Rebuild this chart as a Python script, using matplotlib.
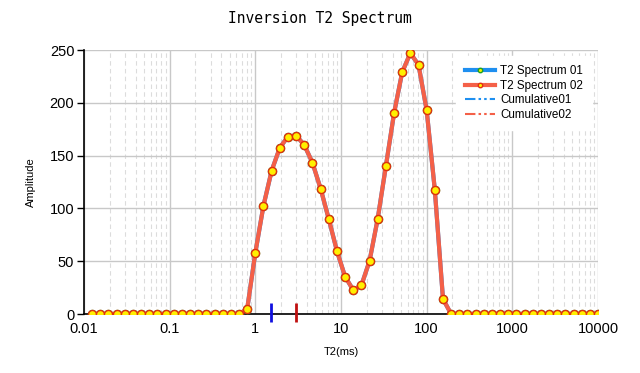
import numpy as np
import matplotlib
matplotlib.use("Agg")
import matplotlib.pyplot as plt
from matplotlib.ticker import LogLocator, FixedLocator, NullFormatter

# ---- data ----
t2_ms = np.logspace(-2, 4, 64)[1:]
amp_02 = [0]*19 + [4.7, 58, 102.6, 135.7, 157.5, 168, 169, 160, 143.3, 118.7,
                   90, 59.7, 35.4, 22.7, 27.1, 50.3, 90.2, 140, 190, 229,
                   247, 236, 193, 117.4, 14.2] + [0]*19
amp_01 = list(amp_02)
cum_x = []
cum_y = []
marker_t2 = [1.52, 2.98]
marker_colors = ["#1010E0", "#C01010"]
x_ticks = [0.01, 0.1, 1, 10, 100, 1000, 10000]
x_ticklabels = ["0.01", "0.1", "1", "10", "100", "1000", "10000"]
y_ticks = [0, 50, 100, 150, 200, 250]

W, H = 640, 373
fig = plt.figure(figsize=(W/100, H/100), dpi=100)
ax = fig.add_axes([84/W, 1-314/H, (598-84)/W, (314-50)/H])

blue = "#1E8FF0"
red = "#F46048"

ax.plot(t2_ms, amp_01, color=blue, lw=3, marker="o", ms=5.8,
        mfc="#F0F000", mec="#20A020", mew=1, label="T2 Spectrum 01", zorder=3)
ax.plot(t2_ms, amp_02, color=red, lw=3, marker="o", ms=5.8,
        mfc="#FFF000", mec="#E03010", mew=1, label="T2 Spectrum 02", zorder=4)
dd = (0, (5, 1.5, 1.2, 1.5, 1.2, 1.5))
ax.plot(cum_x, cum_y, color=blue, lw=1.5, ls=dd, label="Cumulative01")
ax.plot(cum_x, cum_y, color=red, lw=1.5, ls=dd, label="Cumulative02")

for xv, c in zip(marker_t2, marker_colors):
    ax.vlines(xv, -8, 10, color=c, lw=2, clip_on=False, zorder=6)

ax.set_xscale("log")
ax.set_xlim(0.01, 10000)
ax.set_ylim(0, 250)
ax.xaxis.set_major_locator(FixedLocator(x_ticks))
ax.set_xticklabels(x_ticklabels)
ax.xaxis.set_minor_locator(LogLocator(base=10, subs=np.arange(2, 10), numticks=100))
ax.xaxis.set_minor_formatter(NullFormatter())
ax.set_yticks(y_ticks)

ax.grid(True, which="major", axis="both", color="#C8C8C8", lw=1, ls="-")
ax.grid(True, which="minor", axis="x", color="#DCDCDC", lw=0.8, ls=(0, (4, 3)))
ax.set_axisbelow(True)

for s in ["top", "right"]:
    ax.spines[s].set_visible(False)
ax.spines["left"].set_color("black")
ax.spines["bottom"].set_color("black")
ax.spines["left"].set_linewidth(1.2)
ax.spines["bottom"].set_linewidth(1.2)

ax.tick_params(axis="x", which="both", length=0, pad=6, labelsize=10.5)
ax.tick_params(axis="y", which="major", length=5, width=1, pad=2, labelsize=10.5)
for lab in ax.get_xticklabels() + ax.get_yticklabels():
    lab.set_fontfamily(["Liberation Sans", "DejaVu Sans"])

ax.set_xlabel("T2(ms)", fontsize=8, family=["Liberation Sans", "DejaVu Sans"], labelpad=8)
ax.set_ylabel("Amplitude", fontsize=8, family=["Liberation Sans", "DejaVu Sans"], labelpad=10)
fig.text(0.5, 1-19/H, "Inversion T2 Spectrum", ha="center", va="center",
         fontsize=10.5, family=["DejaVu Sans Mono"])

leg = ax.legend(loc="upper right", bbox_to_anchor=(1.0, 1.0), frameon=True,
                fancybox=False, edgecolor="white", framealpha=1,
                prop={"family": ["Liberation Sans", "DejaVu Sans"], "size": 8.4},
                handlelength=2.6, handletextpad=0.4, borderpad=0.8,
                labelspacing=0.22, markerscale=0.55)
leg.set_zorder(10)

fig.savefig("out.png", dpi=100)
